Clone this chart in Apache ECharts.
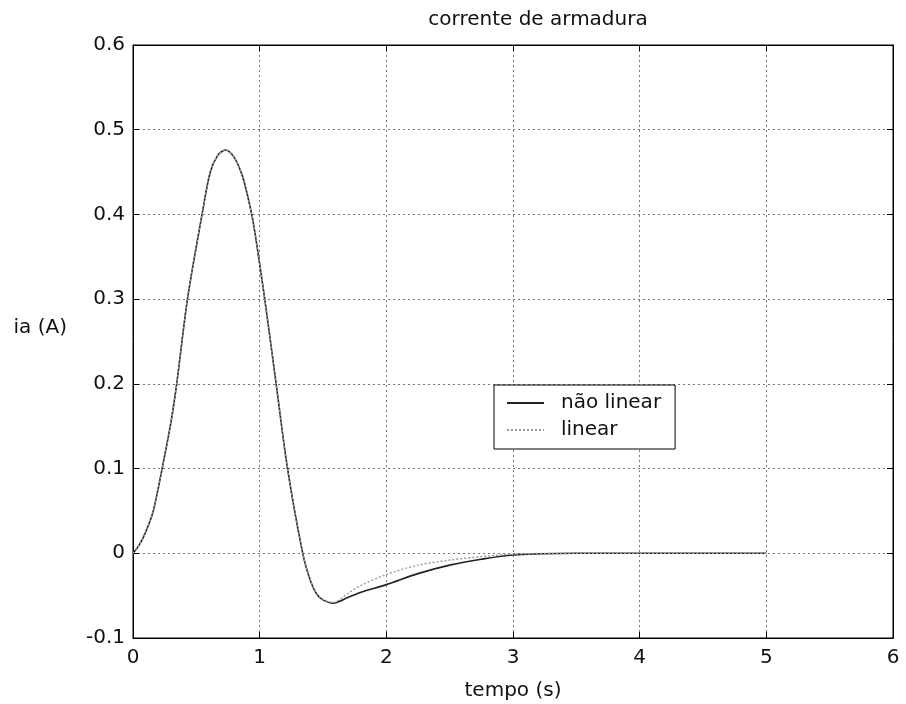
<!DOCTYPE html>
<html>
<head>
<meta charset="utf-8">
<script src="https://cdn.jsdelivr.net/npm/echarts@6/dist/echarts.min.js"></script>
<style>html,body{margin:0;padding:0;background:#fff}#c{width:906px;height:704px}</style>
</head>
<body>
<div id="c"></div>
<script>
var tempo = [0, 0.05, 0.1, 0.16, 0.23, 0.3, 0.345, 0.43, 0.545, 0.61, 0.67, 0.73, 0.8, 0.86, 0.9, 0.95, 1.04, 1.13, 1.22, 1.34, 1.40, 1.45, 1.5, 1.58, 1.7, 1.8, 2.0, 2.25, 2.5, 2.75, 3.0, 3.5, 4, 4.5, 5];
var naoLinear = [0, 0.01, 0.025, 0.05, 0.1, 0.155, 0.2, 0.3, 0.4, 0.45, 0.47, 0.476, 0.467, 0.447, 0.425, 0.39, 0.3, 0.2, 0.1, 0, -0.032, -0.048, -0.055, -0.059, -0.052, -0.046, -0.037, -0.024, -0.014, -0.007, -0.002, 0, 0, 0, 0];
var linear = [0, 0.01, 0.025, 0.05, 0.1, 0.155, 0.2, 0.3, 0.4, 0.45, 0.47, 0.476, 0.467, 0.447, 0.425, 0.39, 0.3, 0.2, 0.1, 0, -0.032, -0.048, -0.055, -0.058, -0.047, -0.038, -0.025, -0.014, -0.008, -0.004, -0.001, 0, 0, 0, 0];
var seriesNames = ['não linear', 'linear'];
var titleText = 'corrente de armadura';
var xName = 'tempo (s)';
var yName = 'ia (A)';

function pairs(xs, ys){ return xs.map(function(x,i){ return [x, ys[i]]; }); }

var FONT = 'DejaVu Sans';
var chart = echarts.init(document.getElementById('c'), null, {renderer:'canvas'});
var gridLine = {show:true, lineStyle:{color:'#777', type:[2,3], width:1}};
var tickIn = {show:true, inside:true, length:6, lineStyle:{color:'#000'}};
chart.setOption({
  animation:false,
  backgroundColor:'#fff',
  textStyle:{fontFamily:FONT},
  grid:{left:133, right:13, top:45, bottom:66, show:true, borderColor:'#000', borderWidth:1},
  graphic:[
    {type:'text', x:538, y:20, style:{text:titleText, font:'20px "DejaVu Sans"', fill:'#111', textAlign:'center', textVerticalAlign:'middle'}},
    {type:'text', x:513, y:691, style:{text:xName, font:'20px "DejaVu Sans"', fill:'#111', textAlign:'center', textVerticalAlign:'middle'}},
    {type:'text', x:67, y:328, style:{text:yName, font:'20px "DejaVu Sans"', fill:'#111', textAlign:'right', textVerticalAlign:'middle'}}
  ],
  legend:{
    orient:'vertical', left:494, top:385,
    padding:[8,14,9,12], itemGap:7, itemWidth:37, itemHeight:14,
    borderColor:'#000', borderWidth:1, backgroundColor:'#fff',
    itemStyle:{opacity:0},
    textStyle:{fontSize:20, fontFamily:FONT, color:'#111', padding:[0,0,0,12]},
    data:seriesNames
  },
  xAxis:[
    {type:'value', min:0, max:6, interval:1, position:'bottom',
     axisLine:{show:true, onZero:false, lineStyle:{color:'#000'}}, axisTick:tickIn,
     axisLabel:{fontSize:20, fontFamily:FONT, color:'#111', margin:10},
     splitLine:gridLine},
    {type:'value', min:0, max:6, interval:1, position:'top',
     axisLine:{show:true, onZero:false, lineStyle:{color:'#000'}}, axisTick:tickIn,
     axisLabel:{show:false}, splitLine:{show:false}}
  ],
  yAxis:[
    {type:'value', min:-0.1, max:0.6, interval:0.1, position:'left',
     axisLine:{show:true, onZero:false, lineStyle:{color:'#000'}}, axisTick:tickIn,
     axisLabel:{fontSize:20, fontFamily:FONT, color:'#111', margin:8,
       formatter:function(v){ return String(parseFloat(v.toFixed(1))); }},
     splitLine:gridLine},
    {type:'value', min:-0.1, max:0.6, interval:0.1, position:'right',
     axisLine:{show:true, onZero:false, lineStyle:{color:'#000'}}, axisTick:tickIn,
     axisLabel:{show:false}, splitLine:{show:false}}
  ],
  series:[
    {name:seriesNames[0], type:'line', data:pairs(tempo, naoLinear), symbol:'none', smooth:0.3,
     lineStyle:{color:'#222', width:1.6}, itemStyle:{color:'#222'}, z:3},
    {name:seriesNames[1], type:'line', data:pairs(tempo, linear), symbol:'none', smooth:0.3,
     lineStyle:{color:'#9a9a9a', width:1.4, type:[2,2]}, itemStyle:{color:'#9a9a9a'}, z:4}
  ]
});
</script>
</body>
</html>
